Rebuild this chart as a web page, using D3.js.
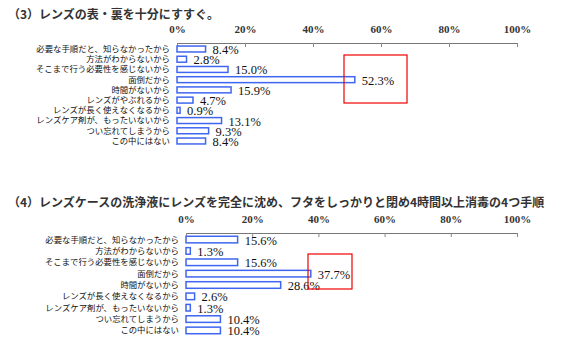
<!DOCTYPE html>
<html>
<head>
<meta charset="utf-8">
<script src="https://cdn.jsdelivr.net/npm/d3@7"></script>
<style>
  body { margin: 0; background: #fff; }
  svg { display: block; }
</style>
</head>
<body>
<svg id="chart" width="568" height="363"></svg>
<script>
// chart (3)
const title3 = "（3）レンズの表・裏を十分にすすぐ。"
const cats3 = ["必要な手順だと、知らなかったから", "方法がわからないから", "そこまで行う必要性を感じないから",
  "面倒だから", "時間がないから", "レンズがやぶれるから", "レンズが長く使えなくなるから",
  "レンズケア剤が、もったいないから", "つい忘れてしまうから", "この中にはない"]
const vals3 = [8.4, 2.8, 15.0, 52.3, 15.9, 4.7, 0.9, 13.1, 9.3, 8.4]

// chart (4)
const title4 = "（4）レンズケースの洗浄液にレンズを完全に沈め、フタをしっかりと閉め4時間以上消毒の4つ手順"
const cats4 = ["必要な手順だと、知らなかったから", "方法がわからないから", "そこまで行う必要性を感じないから",
  "面倒だから", "時間がないから", "レンズが長く使えなくなるから",
  "レンズケア剤が、もったいないから", "つい忘れてしまうから", "この中にはない"]
const vals4 = [15.6, 1.3, 15.6, 37.7, 28.6, 2.6, 1.3, 10.4, 10.4]

const tickVals = [0, 20, 40, 60, 80, 100]

const svg = d3.select("#chart")
const serif = "'Liberation Serif', 'DejaVu Serif', serif"
const jp = "'Noto Sans CJK JP', sans-serif"

function panel(opts) {
  const g = svg.append("g")

  g.append("text")
    .attr("x", 8).attr("y", opts.titleY)
    .style("font-family", jp)
    .style("font-size", "12px")
    .style("font-weight", "bold")
    .style("fill", "#333")
    .text(opts.title)

  const x = d3.scaleLinear().domain([0, 100]).range([opts.x0, opts.x1])
  const y = d3.scaleBand().domain(opts.cats).range([opts.axisY + 1, opts.bottom]).paddingInner(0.42).paddingOuter(0.2)

  // axis: labels above the line, small ticks below
  const ax = g.append("g")
    .attr("transform", `translate(0,${opts.axisY})`)
    .call(d3.axisBottom(x).tickValues(tickVals).tickSize(4).tickFormat(d => d + "%"))
  ax.select(".domain").attr("stroke", "#777").attr("stroke-width", 1)
  ax.selectAll(".tick line").attr("stroke", "#888")
  ax.selectAll(".tick text")
    .attr("y", -10)
    .attr("dy", 0)
    .style("font-family", serif)
    .style("font-size", "11px")
    .style("font-weight", "bold")
    .style("fill", "#333")

  const rows = g.selectAll("g.row")
    .data(opts.cats.map((c, i) => ({ c, v: opts.vals[i] })))
    .join("g")
    .attr("class", "row")

  rows.append("rect")
    .attr("x", x(0))
    .attr("y", d => y(d.c))
    .attr("width", d => x(d.v) - x(0))
    .attr("height", y.bandwidth())
    .style("fill", "#fff")
    .style("stroke", "#3f66f0")
    .style("stroke-width", 1.5)

  rows.append("text")
    .attr("x", opts.labelX)
    .attr("y", d => y(d.c) + y.bandwidth() / 2)
    .attr("dy", "0.35em")
    .attr("text-anchor", "end")
    .style("font-family", jp)
    .style("font-size", "8.4px")
    .style("fill", "#111")
    .text(d => d.c)

  rows.append("text")
    .attr("x", d => x(d.v) + 7)
    .attr("y", d => y(d.c) + y.bandwidth() / 2)
    .attr("dy", "0.4em")
    .style("font-family", serif)
    .style("font-size", "12.5px")
    .style("fill", "#111")
    .text(d => d3.format(".1f")(d.v) + "%")

  // red highlight box round the largest value
  g.append("rect")
    .attr("x", opts.box[0]).attr("y", opts.box[1])
    .attr("width", opts.box[2]).attr("height", opts.box[3])
    .style("fill", "none")
    .style("stroke", "#e00")
    .style("stroke-width", 1.2)
}

panel({ title: title3, titleY: 19, cats: cats3, vals: vals3, x0: 177, x1: 517,
  axisY: 43, bottom: 146, labelX: 170, box: [344, 55, 63, 48] })

panel({ title: title4, titleY: 207, cats: cats4, vals: vals4, x0: 186, x1: 517,
  axisY: 233, bottom: 336, labelX: 179, box: [308, 254, 44, 35] })
</script>
</body>
</html>
